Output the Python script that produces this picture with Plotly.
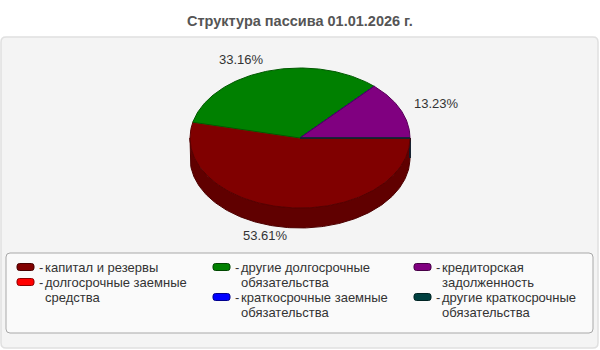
import numpy as np
import textwrap
import plotly.graph_objects as go

# ---------------- data ----------------
title_text = "Структура пассива 01.01.2026 г."
categories = [
    "капитал и резервы",
    "долгосрочные заемные средства",
    "другие долгосрочные обязательства",
    "краткосрочные заемные обязательства",
    "кредиторская задолженность",
    "другие краткосрочные обязательства",
]
shares = [53.61, 0.0, 33.16, 0.0, 13.23, 0.0]
colors = ["#800000", "#FF0000", "#008000", "#0000FF", "#800080", "#004040"]

# ---------------- layout constants ----------------
W, H = 600, 350
CX, CY, RX, RY, DEPTH = 300, 138, 110, 70, 20
FONT = "Liberation Sans, Arial, sans-serif"


def shade(hexc, f):
    h = hexc.lstrip("#")
    r, g, b = (int(h[i:i + 2], 16) for i in (0, 2, 4))
    return "#%02x%02x%02x" % (int(r * f), int(g * f), int(b * f))


def rounded_rect(x0, y0, x1, y1, r):
    return (f"M{x0+r},{y0} L{x1-r},{y0} Q{x1},{y0} {x1},{y0+r} "
            f"L{x1},{y1-r} Q{x1},{y1} {x1-r},{y1} L{x0+r},{y1} "
            f"Q{x0},{y1} {x0},{y1-r} L{x0},{y0+r} Q{x0},{y0} {x0+r},{y0} Z")


fig = go.Figure()

total = sum(shares)
ends = np.cumsum(shares) / total * 360.0
starts = np.concatenate([[0.0], ends[:-1]])


def arc(a, b, dy=0.0):
    n = max(2, int(abs(b - a) / 1.0) + 2)
    t = np.radians(np.linspace(a, b, n))
    return CX + RX * np.cos(t), CY + RY * np.sin(t) + dy


# side faces (front half only: screen angles 0..180)
for a, b, c in zip(starts, ends, colors):
    for off in (0.0, 360.0):
        lo, hi = max(a - off, 0.0), min(b - off, 180.0)
        if lo <= hi and (b - off) >= 0 and (a - off) <= 180:
            xt, yt = arc(lo, hi)
            xb, yb = arc(hi, lo, DEPTH)
            fig.add_trace(go.Scatter(
                x=np.concatenate([xt, xb, xt[:1]]),
                y=np.concatenate([yt, yb, yt[:1]]),
                mode="lines", fill="toself",
                fillcolor=shade(c, 0.75),
                line=dict(color=shade(c, 0.6), width=1),
                hoverinfo="skip", showlegend=False))

# top faces
for a, b, c in zip(starts, ends, colors):
    xa, ya = arc(a, b)
    fig.add_trace(go.Scatter(
        x=np.concatenate([[CX], xa, [CX]]),
        y=np.concatenate([[CY], ya, [CY]]),
        mode="lines", fill="toself", fillcolor=c,
        line=dict(color=shade(c, 0.7), width=1),
        hoverinfo="skip", showlegend=False))

annotations = []
# percentage labels
for a, b, v in zip(starts, ends, shares):
    if v <= 0:
        continue
    m = np.radians((a + b) / 2)
    cs, sn = np.cos(m), np.sin(m)
    x = CX + 1.15 * RX * cs
    y = CY + 1.15 * RY * sn + (DEPTH if sn > 0 else 0) - 2
    annotations.append(dict(
        x=x, y=y, xref="x", yref="y", text=f"{v:.2f}%", showarrow=False,
        xanchor="right" if cs < 0 else "left", yanchor="middle",
        xshift=4 if cs < 0 else -4,
        font=dict(family=FONT, size=13, color="#333333")))

# title
annotations.append(dict(
    x=W / 2, y=21, xref="x", yref="y", text=f"<b>{title_text}</b>",
    showarrow=False, xanchor="center", yanchor="middle",
    font=dict(family=FONT, size=14.5, color="#555555")))

shapes = [
    dict(type="path", path=rounded_rect(1, 37, 598, 348, 5), xref="x", yref="y",
         fillcolor="#F4F4F4", line=dict(color="#E0E0E0", width=1.5), layer="below"),
    dict(type="path", path=rounded_rect(6, 253, 593, 333, 4), xref="x", yref="y",
         fillcolor="#FAFAFA", line=dict(color="#A8A8A8", width=1), layer="below"),
]

# legend (column-major, 2 items per column)
LEG_COL_X = [17, 213, 414]
LEG_Y0 = 267
LINE_H = 15
per_col = 2
for ci, colx in enumerate(LEG_COL_X):
    y = LEG_Y0
    for k in range(per_col):
        i = ci * per_col + k
        if i >= len(categories):
            break
        lines = textwrap.wrap(categories[i], width=21)
        shapes.append(dict(type="path", path=rounded_rect(colx, y - 3.5, colx + 17, y + 3.5, 2.5),
                           xref="x", yref="y", fillcolor=colors[i],
                           line=dict(color=shade(colors[i], 0.55), width=1)))
        annotations.append(dict(x=colx + 20, y=y, xref="x", yref="y", text="-",
                                showarrow=False, xanchor="left", yanchor="middle",
                                font=dict(family=FONT, size=13, color="#333333")))
        for ln in lines:
            annotations.append(dict(x=colx + 26, y=y, xref="x", yref="y", text=ln,
                                    showarrow=False, xanchor="left", yanchor="middle",
                                    font=dict(family=FONT, size=13, color="#333333")))
            y += LINE_H

fig.update_layout(
    width=W, height=H, margin=dict(l=0, r=0, t=0, b=0),
    paper_bgcolor="white", plot_bgcolor="white",
    xaxis=dict(range=[0, W], visible=False, fixedrange=True),
    yaxis=dict(range=[H, 0], visible=False, fixedrange=True),
    shapes=shapes, annotations=annotations, showlegend=False,
)

fig.write_html("out.html")
